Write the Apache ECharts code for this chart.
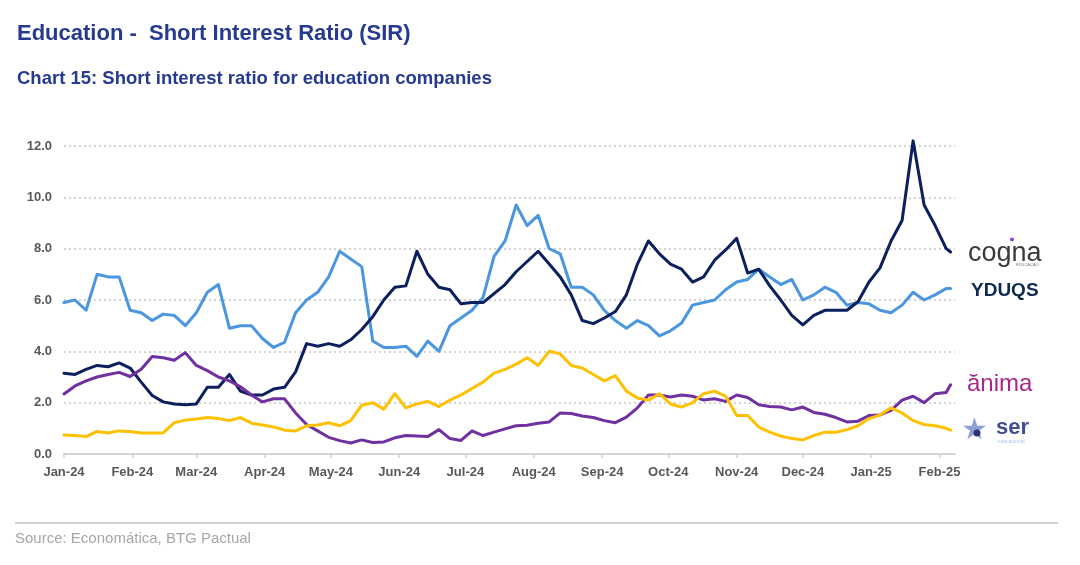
<!DOCTYPE html>
<html>
<head>
<meta charset="utf-8">
<script src="https://cdn.jsdelivr.net/npm/echarts@6/dist/echarts.min.js"></script>
<style>
html,body{margin:0;padding:0;background:#fff;}
#chart{width:1080px;height:565px;}
</style>
</head>
<body>
<div id="chart"></div>
<script>
const dates = ['2024-01-01','2024-01-06','2024-01-11','2024-01-16','2024-01-21','2024-01-26','2024-01-31','2024-02-05','2024-02-10','2024-02-15',
'2024-02-20','2024-02-25','2024-03-01','2024-03-06','2024-03-11','2024-03-16','2024-03-21','2024-03-26','2024-03-31','2024-04-05',
'2024-04-10','2024-04-15','2024-04-20','2024-04-25','2024-04-30','2024-05-05','2024-05-10','2024-05-15','2024-05-20','2024-05-25',
'2024-05-30','2024-06-04','2024-06-09','2024-06-14','2024-06-19','2024-06-24','2024-06-29','2024-07-04','2024-07-09','2024-07-14',
'2024-07-19','2024-07-24','2024-07-29','2024-08-03','2024-08-08','2024-08-13','2024-08-18','2024-08-23','2024-08-28','2024-09-02',
'2024-09-07','2024-09-12','2024-09-17','2024-09-22','2024-09-27','2024-10-02','2024-10-07','2024-10-12','2024-10-17','2024-10-22',
'2024-10-27','2024-11-01','2024-11-06','2024-11-11','2024-11-16','2024-11-21','2024-11-26','2024-12-01','2024-12-06','2024-12-11',
'2024-12-16','2024-12-21','2024-12-26','2024-12-31','2025-01-05','2025-01-10','2025-01-15','2025-01-20','2025-01-25','2025-01-30',
'2025-02-04','2025-02-06'];

const cogna = [3.15,3.1,3.3,3.45,3.4,3.55,3.35,2.8,2.28,2.03,
1.95,1.92,1.95,2.6,2.6,3.1,2.45,2.3,2.3,2.53,
2.6,3.2,4.3,4.2,4.3,4.2,4.45,4.85,5.35,6.0,
6.5,6.55,7.9,7.0,6.5,6.4,5.85,5.9,5.9,6.25,
6.6,7.1,7.5,7.9,7.4,6.9,6.2,5.2,5.08,5.3,
5.55,6.2,7.4,8.3,7.8,7.4,7.2,6.7,6.9,7.55,
7.95,8.4,7.05,7.2,6.55,6.0,5.4,5.03,5.4,5.6,
5.6,5.6,5.93,6.7,7.25,8.3,9.1,12.2,9.7,8.9,
8.0,7.87];

const yduqs = [5.9,6.0,5.6,7.0,6.9,6.9,5.6,5.5,5.2,5.45,
5.4,5.0,5.5,6.3,6.6,4.9,5.0,5.0,4.5,4.15,
4.35,5.5,6.0,6.3,6.9,7.9,7.6,7.3,4.4,4.15,
4.15,4.2,3.8,4.4,4.0,5.0,5.3,5.6,6.1,7.7,
8.3,9.7,8.9,9.3,8.0,7.8,6.5,6.5,6.2,5.6,
5.2,4.9,5.2,5.0,4.6,4.8,5.1,5.8,5.9,6.0,
6.4,6.7,6.8,7.2,6.9,6.6,6.8,6.0,6.2,6.5,
6.3,5.8,5.9,5.85,5.6,5.5,5.8,6.3,6.0,6.2,
6.45,6.45];

const anima = [2.34,2.65,2.85,3.0,3.1,3.18,3.02,3.3,3.8,3.75,
3.65,3.95,3.45,3.25,3.0,2.85,2.62,2.3,2.03,2.15,
2.15,1.6,1.15,0.9,0.65,0.52,0.43,0.55,0.45,0.47,
0.63,0.72,0.7,0.68,0.95,0.6,0.53,0.9,0.72,0.85,
0.98,1.1,1.12,1.2,1.25,1.6,1.58,1.48,1.42,1.3,
1.22,1.44,1.8,2.3,2.3,2.22,2.3,2.25,2.1,2.15,
2.05,2.3,2.2,1.92,1.85,1.83,1.72,1.83,1.62,1.55,
1.42,1.25,1.28,1.5,1.52,1.7,2.1,2.25,2.0,2.35,
2.4,2.7];

const ser = [0.74,0.72,0.68,0.88,0.82,0.9,0.88,0.82,0.82,0.82,
1.22,1.32,1.36,1.42,1.38,1.3,1.42,1.2,1.13,1.05,
0.93,0.9,1.1,1.13,1.22,1.1,1.3,1.9,2.0,1.75,
2.35,1.8,1.95,2.05,1.85,2.1,2.3,2.55,2.8,3.15,
3.3,3.5,3.75,3.45,4.0,3.9,3.45,3.35,3.1,2.85,
3.05,2.45,2.18,2.1,2.35,1.95,1.83,2.0,2.35,2.45,
2.25,1.5,1.5,1.05,0.85,0.7,0.6,0.55,0.72,0.85,
0.85,0.95,1.1,1.38,1.52,1.8,1.6,1.3,1.15,1.1,
1.0,0.93];

const monthTicks = ['2024-01-01','2024-02-01','2024-03-01','2024-04-01','2024-05-01','2024-06-01','2024-07-01',
'2024-08-01','2024-09-01','2024-10-01','2024-11-01','2024-12-01','2025-01-01','2025-02-01'];
const monthLabels = ['Jan-24','Feb-24','Mar-24','Apr-24','May-24','Jun-24','Jul-24',
'Aug-24','Sep-24','Oct-24','Nov-24','Dec-24','Jan-25','Feb-25'];

const seriesNames = ['YDUQS','Cogna','Ânima','Ser'];
const seriesColors = ['#4a96e0','#0c1f5e','#7030a0','#ffc000'];

function toTs(s){const p=s.split('-').map(Number);return Date.UTC(p[0],p[1]-1,p[2]);}
const tickTs = monthTicks.map(toTs);
const ts = dates.map(toTs);

const FONT = "'Liberation Sans', Arial, sans-serif";
const chart = echarts.init(document.getElementById('chart'), null, {renderer:'canvas'});

function mk(name, vals, color, z){
  return {name:name, type:'line', data: ts.map((t,i)=>[t, vals[i]]), showSymbol:false, symbol:'none',
    clip:false, z:z, lineStyle:{color:color, width:3, join:'round', cap:'round'}, itemStyle:{color:color}, animation:false};
}

chart.setOption({
  animation:false,
  backgroundColor:'#ffffff',
  grid:{left:64, right:125, top:146, bottom:111, containLabel:false},
  xAxis:{
    type:'value',
    min: toTs('2024-01-01'), max: toTs('2025-02-08'),
    axisLine:{show:true, lineStyle:{color:'#d4d4d4', width:2}},
    axisTick:{show:true, customValues: tickTs, length:4, lineStyle:{color:'#d4d4d4', width:1.5}},
    axisLabel:{customValues: tickTs, margin:12, color:'#595959', fontWeight:'bold', fontSize:13, fontFamily:FONT,
      formatter: function(v){ const i = tickTs.indexOf(v); return i>=0 ? monthLabels[i] : ''; }},
    splitLine:{show:false}
  },
  yAxis:{
    type:'value', min:0, max:12, interval:2,
    axisLine:{show:false}, axisTick:{show:false},
    axisLabel:{margin:12, color:'#595959', fontWeight:'bold', fontSize:13, fontFamily:FONT,
      formatter: v => v.toFixed(1)},
    splitLine:{show:true, lineStyle:{color:'#c6c6c6', width:1.5, type:[2,3]}}
  },
  series:[
    mk(seriesNames[0], yduqs, seriesColors[0], 2),
    mk(seriesNames[1], cogna, seriesColors[1], 3),
    mk(seriesNames[2], anima, seriesColors[2], 4),
    mk(seriesNames[3], ser, seriesColors[3], 5)
  ],
  graphic:[
    {type:'text', left:17, top:23, style:{text:'Education -  Short Interest Ratio (SIR)', fill:'#263a8f', font:"bold 22px "+FONT}},
    {type:'text', left:17, top:69, style:{text:'Chart 15: Short interest ratio for education companies', fill:'#263a8f', font:"bold 18.5px "+FONT}},
    {type:'line', shape:{x1:15, y1:523, x2:1058, y2:523}, style:{stroke:'#c4c4c4', lineWidth:1.5}},
    {type:'text', left:15, top:531, style:{text:'Source: Economática, BTG Pactual', fill:'#a6a6a6', font:"15px "+FONT}},
    {type:'text', left:968, top:240, style:{text:'cogna', fill:'#3b3b3b', font:"27px "+FONT}},
    {type:'circle', shape:{cx:1012, cy:239.5, r:2}, style:{fill:'#8a3ff0'}},
    {type:'text', left:1016, top:263, style:{text:'EDUCAÇÃO', fill:'#777777', font:"4px "+FONT}},
    {type:'text', left:971, top:281, style:{text:'YDUQS', fill:'#0f2a52', font:"bold 19px "+FONT}},
    {type:'text', left:967, top:372, style:{text:'ănima', fill:'#a8268a', font:"24px "+FONT}},
    {type:'text', left:961, top:416, style:{text:'★', fill:'#8e9fd8', font:"30px 'DejaVu Sans'"}},
    {type:'circle', shape:{cx:977, cy:433, r:3.5}, style:{fill:'#2a3570'}},
    {type:'text', left:996, top:417, style:{text:'ser', fill:'#3f4f92', font:"bold 22px "+FONT}},
    {type:'text', left:998, top:439, style:{text:'educacional', fill:'#a8c4e6', font:"5px "+FONT}}
  ]
});
</script>
</body>
</html>
